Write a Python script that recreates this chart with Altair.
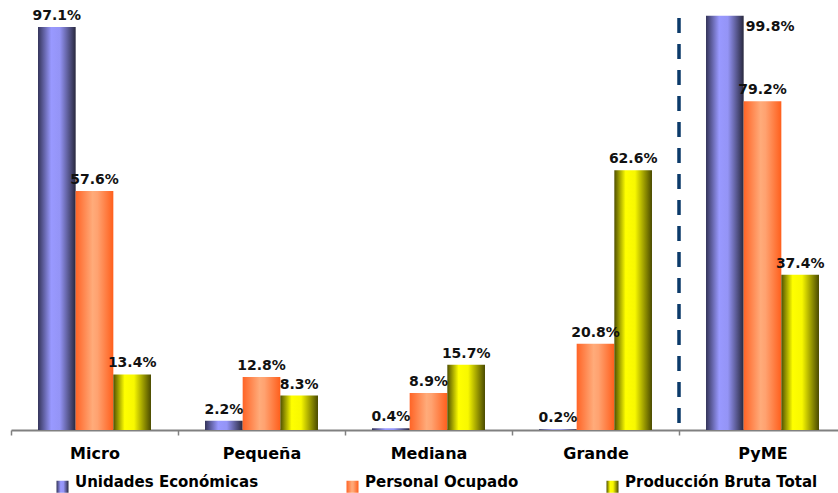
import altair as alt
import pandas as pd

# Participación porcentual por tamaño de empresa
categorias = ["Micro", "Pequeña", "Mediana", "Grande", "PyME"]
series = ["Unidades Económicas", "Personal Ocupado", "Producción Bruta Total"]
unidades = [97.1, 2.2, 0.4, 0.2, 99.8]
personal = [57.6, 12.8, 8.9, 20.8, 79.2]
produccion = [13.4, 8.3, 15.7, 62.6, 37.4]

filas = []
for serie, valores in zip(series, [unidades, personal, produccion]):
    for cat, v in zip(categorias, valores):
        filas.append({"categoria": cat, "serie": serie, "valor": v,
                      "etiqueta": f"{v:.1f}%"})
df = pd.DataFrame(filas)
divisor_df = pd.DataFrame({"categoria": ["PyME"]})

FUENTE = "DejaVu Sans"


def degradado(paradas):
    """Horizontal 'cylinder' gradient as a Vega expression."""
    stops = ", ".join(f"{{offset: {o}, color: '{c}'}}" for o, c in paradas)
    return alt.ExprRef(
        expr=f"{{gradient: 'linear', x1: 0, y1: 0, x2: 1, y2: 0, stops: [{stops}]}}"
    )


colores = [
    degradado([(0, "#34345a"), (0.35, "#9999ff"), (0.58, "#9494f6"), (1, "#28283e")]),
    degradado([(0, "#ff6426"), (0.45, "#ffab7a"), (0.58, "#ffa270"), (1, "#ff5f1c")]),
    degradado([(0, "#505000"), (0.3, "#ffff00"), (0.55, "#f8f800"), (1, "#4a4a00")]),
]

eje_x = alt.Axis(
    title=None, labelAngle=0, labelFont=FUENTE, labelFontSize=16,
    labelFontWeight="bold", labelColor="#000000", labelPadding=10,
    tickBand="extent", tickSize=5, tickWidth=1.5, tickColor="#808080",
    domainColor="#808080", domainWidth=2,
)
escala_x = alt.Scale(domain=categorias, paddingInner=0, paddingOuter=0,
                     range=[0, 835])
x_cat = alt.X("categoria:N", scale=escala_x, axis=eje_x)
x_off = alt.XOffset("serie:N", sort=series,
                    scale=alt.Scale(domain=series, paddingInner=0,
                                    paddingOuter=0.717))
y_val = alt.Y("valor:Q", scale=alt.Scale(domain=[0, 100]), axis=None)

barras = alt.Chart(df).mark_bar().encode(
    x=x_cat,
    xOffset=x_off,
    y=y_val,
    color=alt.Color(
        "serie:N",
        scale=alt.Scale(domain=series, range=colores),
        legend=alt.Legend(
            title=None, orient="none", legendX=44, legendY=464,
            direction="horizontal", columns=3, symbolType="square",
            symbolSize=144, symbolStrokeWidth=0, labelFont=FUENTE,
            labelFontSize=15, labelFontWeight="bold", labelColor="#000000",
            labelBaseline="alphabetic", labelOffset=5, labelLimit=400,
            columnPadding=86, padding=0,
        ),
    ),
)

texto = dict(font=FUENTE, fontSize=14, fontWeight="bold", color="#111111")

etiquetas = alt.Chart(df).transform_filter(
    "!(datum.categoria == 'PyME' && datum.serie == 'Unidades Económicas')"
).mark_text(baseline="alphabetic", dy=-7, **texto).encode(
    x=x_cat, xOffset=x_off, y=y_val, text="etiqueta:N"
)

# The tallest label sits beside its bar, inside the top edge
etiqueta_pyme = alt.Chart(df).transform_filter(
    "datum.categoria == 'PyME' && datum.serie == 'Unidades Económicas'"
).mark_text(baseline="top", align="left", dx=21, dy=4, **texto).encode(
    x=x_cat, xOffset=x_off, y=y_val, text="etiqueta:N"
)

divisor = alt.Chart(divisor_df).mark_rule(
    color="#0b3a6a", strokeWidth=3.5, strokeDash=[15, 11]
).encode(
    x=alt.X("categoria:N", scale=escala_x, axis=eje_x, bandPosition=0),
    y=alt.value(3),
    y2=alt.value(413),
)

chart = alt.layer(barras, etiquetas, etiqueta_pyme, divisor).properties(
    width=827,
    height=415,
    autosize=alt.AutoSizeParams(type="none"),
    padding={"left": 11, "top": 15, "right": 0, "bottom": 63},
).configure_view(stroke=None)

chart.save("out.html", embed_options={"renderer": "svg", "actions": False})
